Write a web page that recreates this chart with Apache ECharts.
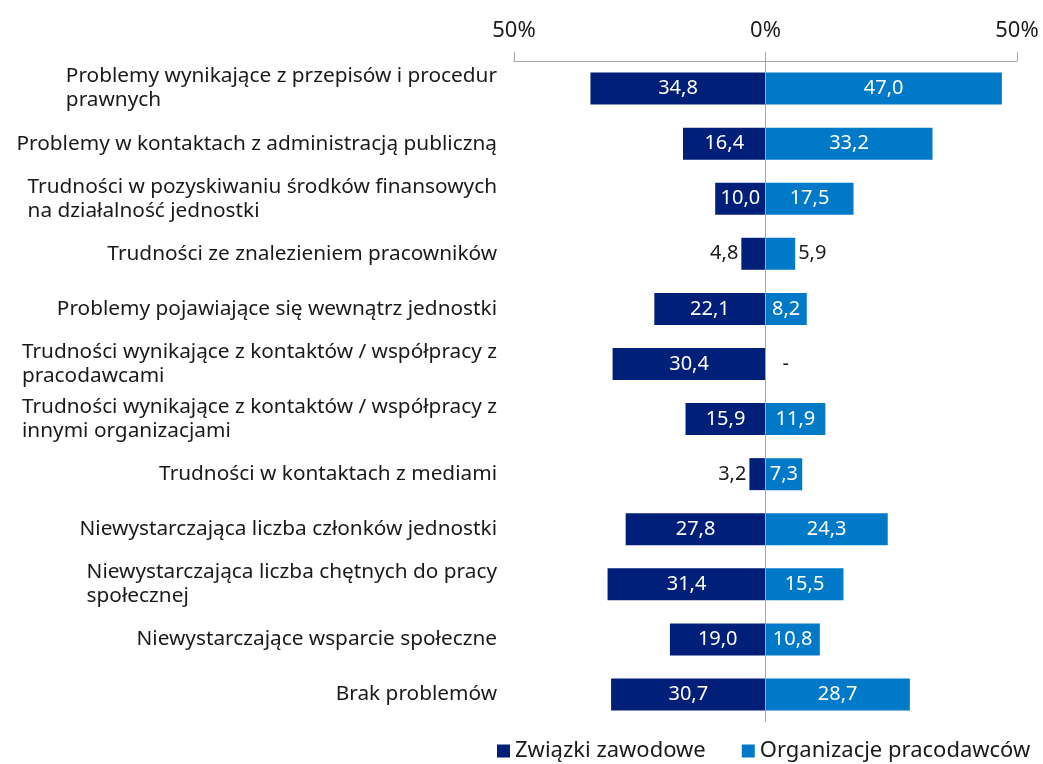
<!DOCTYPE html>
<html>
<head>
<meta charset="utf-8">
<script src="https://cdn.jsdelivr.net/npm/echarts@6/dist/echarts.min.js"></script>
<style>
  html, body { margin: 0; padding: 0; background: #fff; }
  #chart { width: 1043px; height: 764px; }
</style>
</head>
<body>
<div id="chart"></div>
<script>
const categories = [
  "Problemy wynikające z przepisów i procedur\nprawnych",
  "Problemy w kontaktach z administracją publiczną",
  "Trudności w pozyskiwaniu środków finansowych\nna działalność jednostki",
  "Trudności ze znalezieniem pracowników",
  "Problemy pojawiające się wewnątrz jednostki",
  "Trudności wynikające z kontaktów / współpracy z\npracodawcami",
  "Trudności wynikające z kontaktów / współpracy z\ninnymi organizacjami",
  "Trudności w kontaktach z mediami",
  "Niewystarczająca liczba członków jednostki",
  "Niewystarczająca liczba chętnych do pracy\nspołecznej",
  "Niewystarczające wsparcie społeczne",
  "Brak problemów"
]
const unions = [34.8, 16.4, 10.0, 4.8, 22.1, 30.4, 15.9, 3.2, 27.8, 31.4, 19.0, 30.7]
// null = brak danych ("-")
const employers = [47.0, 33.2, 17.5, 5.9, 8.2, null, 11.9, 7.3, 24.3, 15.5, 10.8, 28.7]
const seriesNames = ["Związki zawodowe", "Organizacje pracodawców"]
const colors = ["#001f78", "#0079c8"]

const FONT = "Noto Sans"
const fmt = v => Math.abs(v).toFixed(1).replace(".", ",")

let chart = echarts.init(document.getElementById("chart"))

let leftData = unions.map(function (v) {
  let item = { value: -v }
  if (v < 8) {
    item.label = { position: "left", color: "#1a1a1a", distance: 3 }
  }
  return item
})

let rightData = employers.map(function (v) {
  if (v === null) {
    return { value: 0, label: { position: "right", color: "#1a1a1a", distance: 17, formatter: "-" } }
  }
  let item = { value: v }
  if (v < 7) {
    item.label = { position: "right", color: "#1a1a1a", distance: 3 }
  }
  return item
})

let option = {
  animation: false,
  textStyle: { fontFamily: FONT },
  grid: {
    top: 61,
    bottom: 42,
    left: 514,
    right: 26
  },
  legend: {
    data: seriesNames,
    left: 492,
    top: 735,
    itemWidth: 13,
    itemHeight: 13,
    itemGap: 36,
    icon: "rect",
    textStyle: { fontFamily: FONT, fontSize: 22, color: "#1a1a1a" }
  },
  xAxis: {
    type: "value",
    position: "top",
    min: -50,
    max: 50,
    interval: 50,
    axisLine: { show: true, lineStyle: { color: "#a6a6a6", width: 1 } },
    axisTick: { show: true, length: 9, lineStyle: { color: "#a6a6a6" } },
    splitLine: { show: false },
    axisLabel: {
      fontFamily: FONT,
      fontSize: 22,
      color: "#1a1a1a",
      margin: 19,
      formatter: v => Math.abs(v) + "%"
    }
  },
  yAxis: {
    type: "category",
    inverse: true,
    data: categories,
    axisLine: { show: false },
    axisTick: { show: false },
    axisLabel: {
      interval: 0,
      margin: 17,
      color: "#1a1a1a",
      fontFamily: FONT,
      fontSize: 20.8,
      lineHeight: 24,
      formatter: function (v) {
        return v.split("\n").map(l => "{a|" + l + "}").join("\n")
      },
      rich: {
        a: { align: "left", fontFamily: FONT, fontSize: 20.8, lineHeight: 24, color: "#1a1a1a" }
      }
    }
  },
  series: [
    {
      name: seriesNames[0],
      type: "bar",
      data: leftData,
      barWidth: 32,
      barGap: "-100%",
      itemStyle: { color: colors[0] },
      label: {
        show: true,
        position: "inside",
        color: "#fff",
        fontFamily: FONT,
        fontSize: 20,
        formatter: p => fmt(p.value)
      },
      markLine: {
        silent: true,
        symbol: "none",
        label: { show: false },
        lineStyle: { color: "#a6a6a6", width: 1, type: "solid" },
        data: [{ xAxis: 0 }]
      }
    },
    {
      name: seriesNames[1],
      type: "bar",
      data: rightData,
      barWidth: 32,
      itemStyle: { color: colors[1] },
      label: {
        show: true,
        position: "inside",
        color: "#fff",
        fontFamily: FONT,
        fontSize: 20,
        formatter: p => fmt(p.value)
      }
    }
  ]
}

chart.setOption(option)
</script>
</body>
</html>
